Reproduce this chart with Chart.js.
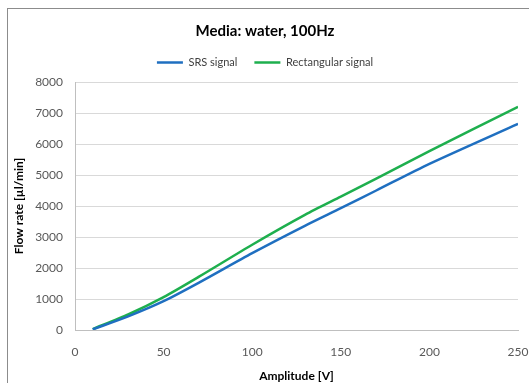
<!DOCTYPE html>
<html>
<head>
<meta charset="utf-8">
<script src="https://cdn.jsdelivr.net/npm/chart.js@4.4.0/dist/chart.umd.min.js"></script>
<style>
  html, body { margin: 0; padding: 0; background: #fff; overflow: hidden; }
  #frame { position: absolute; left: 7px; top: 8px; width: 600px; height: 500px; border: 1px solid #8c8c8c; }
  #wrap { position: absolute; left: 0; top: 0; width: 529px; height: 383px; }
</style>
</head>
<body>
<div id="frame"></div>
<div id="wrap"><canvas id="flowChart" width="529" height="383"></canvas></div>
<script>
// amplitude in V, flow rate in ul/min
const amplitude = [10, 30, 50, 70, 100, 130, 150, 170, 200, 250];
const srsSignal = [20, 440, 930, 1530, 2480, 3370, 3930, 4500, 5360, 6650];
const rectSignal = [30, 500, 1060, 1720, 2750, 3720, 4300, 4880, 5770, 7200];
const xTicks = [0, 50, 100, 150, 200, 250];
const yTicks = [0, 1000, 2000, 3000, 4000, 5000, 6000, 7000, 8000];

const FONT = "'Lato', 'Liberation Sans', sans-serif";

function toPoints(values) {
  return amplitude.map((a, i) => ({ x: a, y: values[i] }));
}

// push the plot a few px below the legend
const legendGap = {
  id: 'legendGap',
  beforeInit(chart) {
    const fit = chart.legend.fit;
    chart.legend.fit = function () {
      fit.bind(chart.legend)();
      this.height += 4;
    };
  }
};

const ctx = document.getElementById('flowChart').getContext('2d');

new Chart(ctx, {
  type: 'line',
  data: {
    datasets: [{
      label: 'SRS signal',
      data: toPoints(srsSignal),
      borderColor: '#1f6fc0',
      backgroundColor: '#1f6fc0',
      borderWidth: 2.5,
      pointRadius: 0,
      tension: 0.25
    }, {
      label: 'Rectangular signal',
      data: toPoints(rectSignal),
      borderColor: '#1eaf4e',
      backgroundColor: '#1eaf4e',
      borderWidth: 2.5,
      pointRadius: 0,
      tension: 0.25
    }]
  },
  plugins: [legendGap],
  options: {
    responsive: false,
    animation: false,
    layout: { padding: { left: 12, right: 11, top: 0, bottom: 0 } },
    plugins: {
      title: {
        display: true,
        text: 'Media: water, 100Hz',
        color: '#000',
        font: { family: FONT, size: 15, weight: 'bold' },
        padding: { top: 22, bottom: 0 }
      },
      legend: {
        labels: {
          usePointStyle: true,
          pointStyle: 'line',
          pointStyleWidth: 26,
          boxHeight: 11,
          color: '#404040',
          font: { family: FONT, size: 11 },
          padding: 17
        }
      },
      tooltip: { enabled: false }
    },
    scales: {
      x: {
        type: 'linear',
        min: 0,
        max: 250,
        afterBuildTicks: s => { s.ticks = xTicks.map(v => ({ value: v })); },
        afterFit: s => { s.height = 53; s.paddingLeft = 0; s.paddingRight = 0; },
        grid: { display: false, drawTicks: false },
        border: { display: true, color: '#bfbfbf' },
        ticks: { padding: 15, color: '#595959', font: { family: FONT, size: 12 }, callback: v => String(v) },
        title: {
          display: true,
          text: 'Amplitude [V]',
          color: '#000',
          font: { family: FONT, size: 12, weight: 'bold' },
          padding: 0
        }
      },
      y: {
        min: 0,
        max: 8000,
        afterBuildTicks: s => { s.ticks = yTicks.map(v => ({ value: v })); },
        afterFit: s => { s.width = 63; s.paddingTop = 0; s.paddingBottom = 0; },
        grid: { color: '#d9d9d9', drawTicks: false },
        border: { display: true, color: '#bfbfbf' },
        ticks: { padding: 12, color: '#595959', font: { family: FONT, size: 12 }, callback: v => String(v) },
        title: {
          display: true,
          text: 'Flow rate [µl/min]',
          color: '#000',
          font: { family: FONT, size: 12, weight: 'bold' },
          padding: 0
        }
      }
    }
  }
});
</script>
</body>
</html>
